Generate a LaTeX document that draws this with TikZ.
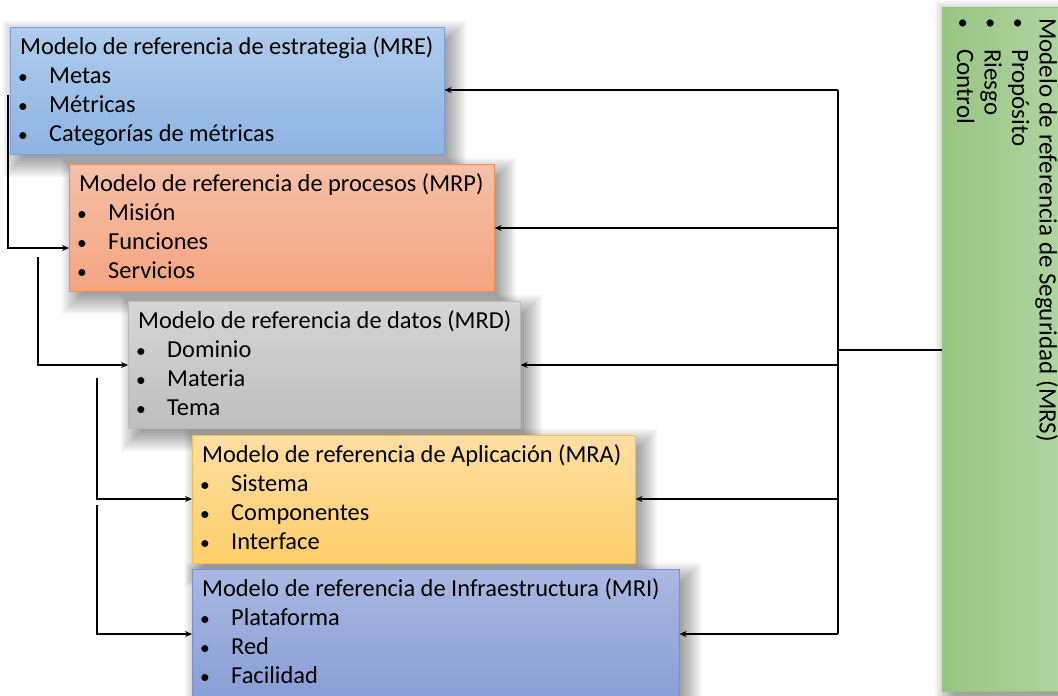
\documentclass[tikz,border=0pt]{standalone}
\usepackage{fontspec}
\setmainfont{Carlito}
\usetikzlibrary{arrows.meta}
\pgfdeclarelayer{bg}
\pgfsetlayers{bg,main}
\definecolor{mreT}{RGB}{176,203,236}
\definecolor{mreB}{RGB}{141,180,227}
\definecolor{mreD}{RGB}{120,160,215}
\definecolor{mrpT}{RGB}{246,192,168}
\definecolor{mrpB}{RGB}{245,164,128}
\definecolor{mrpD}{RGB}{240,140,90}
\definecolor{mrdT}{RGB}{214,214,214}
\definecolor{mrdB}{RGB}{190,190,190}
\definecolor{mrdD}{RGB}{185,185,185}
\definecolor{mraT}{RGB}{254,222,162}
\definecolor{mraB}{RGB}{254,206,106}
\definecolor{mraD}{RGB}{246,192,70}
\definecolor{mriT}{RGB}{170,184,226}
\definecolor{mriB}{RGB}{136,158,214}
\definecolor{mriD}{RGB}{120,145,210}
\definecolor{mrsL}{RGB}{152,197,131}
\definecolor{mrsR}{RGB}{178,213,162}
\definecolor{mrsD}{RGB}{150,195,130}
\newcommand\bl[1]{\hspace*{-2pt}\makebox[31pt][l]{\scalebox{0.8}{\textbullet}}#1}
\newcommand\blr{\makebox[31pt][l]{\scalebox{0.8}{\textbullet}}}
\newcommand\shbox[1]{\begin{pgfonlayer}{bg}\foreach \e in {-14,-12,...,14}{\fill[black,opacity=0.04] ([shift={(7-\e,8-\e)}]#1.north west) rectangle ([shift={(7+\e,8+\e)}]#1.south east);}\end{pgfonlayer}}
\begin{document}
\begin{tikzpicture}[x=1pt,y=-1pt,
  box/.style={rectangle, draw=#1, line width=0.6pt, anchor=north west, inner sep=0pt},
  txt/.style={anchor=north west, align=left, inner sep=0pt, text=black,
    font=\fontsize{24.4}{29}\selectfont},
  arr/.style={line width=1.2pt, -{Stealth[length=7pt,width=6pt]}},
  ln/.style={line width=1.2pt},
]
\useasboundingbox (0,0) rectangle (1058,696);
\begin{pgfonlayer}{bg}\fill[white] (0,0) rectangle (1058,696);\end{pgfonlayer}

% boxes
\node[box=mreD, minimum width=434pt, minimum height=127pt, top color=mreT, bottom color=mreB] (MRE) at (10,27) {};
\shbox{MRE}
\node[txt] (MREt) at (20,36) {Modelo de referencia de estrategia (MRE)\\ \bl{Metas}\\ \bl{Métricas}\\ \bl{Categorías de métricas}};

\node[box=mrpD, minimum width=425pt, minimum height=127pt, top color=mrpT, bottom color=mrpB] (MRP) at (69,164) {};
\shbox{MRP}
\node[txt] (MRPt) at (79,173) {Modelo de referencia de procesos (MRP)\\ \bl{Misión}\\ \bl{Funciones}\\ \bl{Servicios}};

\node[box=mrdD, minimum width=392pt, minimum height=127pt, top color=mrdT, bottom color=mrdB] (MRD) at (128,301) {};
\shbox{MRD}
\node[txt] (MRDt) at (138,310) {Modelo de referencia de datos (MRD)\\ \bl{Dominio}\\ \bl{Materia}\\ \bl{Tema}};

\node[box=mraD, minimum width=443pt, minimum height=128pt, top color=mraT, bottom color=mraB] (MRA) at (192,435) {};
\shbox{MRA}
\node[txt] (MRAt) at (202,444) {Modelo de referencia de Aplicación (MRA)\\ \bl{Sistema}\\ \bl{Componentes}\\ \bl{Interface}};

\node[box=mriD, minimum width=487pt, minimum height=130pt, top color=mriT, bottom color=mriB] (MRI) at (192,569) {};
\shbox{MRI}
\node[txt] (MRIt) at (202,578) {Modelo de referencia de Infraestructura (MRI)\\ \bl{Plataforma}\\ \bl{Red}\\ \bl{Facilidad}};

\node[box=mrsD, minimum width=125pt, minimum height=684pt, left color=mrsL, right color=mrsR] (MRS) at (942,7) {};
\shbox{MRS}
\node[txt, rotate=-90, font=\fontsize{25}{27.5}\selectfont] (MRSt) at (1058,18) {Modelo de referencia de Seguridad (MRS)\\ \blr Propósito\\ \blr Riesgo\\ \blr Control};

% right bus
\coordinate (rE) at (838,90);
\coordinate (rP) at (838,228);
\coordinate (rS) at (838,350);
\coordinate (rD) at (838,365);
\coordinate (rA) at (838,499);
\coordinate (rI) at (838,634);
\draw[ln] (rE) -- (rI);
\draw[ln] (MRS.west |- rS) -- (rS);
\draw[arr] (rE) -- (MRE.east |- rE);
\draw[arr] (rP) -- (MRP.east |- rP);
\draw[arr] (rD) -- (MRD.east |- rD);
\draw[arr] (rA) -- (MRA.east |- rA);
\draw[arr] (rI) -- (MRI.east |- rI);

% left connectors
\coordinate (a1) at (8,95);   \coordinate (b1) at (8,248);
\coordinate (a2) at (38,257); \coordinate (b2) at (38,365);
\coordinate (a3) at (97,378); \coordinate (b3) at (97,499);
\coordinate (a4) at (97,505); \coordinate (b4) at (97,634);
\draw[arr] (a1) -- (b1) -- (MRP.west |- b1);
\draw[arr] (a2) -- (b2) -- (MRD.west |- b2);
\draw[arr] (a3) -- (b3) -- (MRA.west |- b3);
\draw[arr] (a4) -- (b4) -- (MRI.west |- b4);
\end{tikzpicture}
\end{document}
